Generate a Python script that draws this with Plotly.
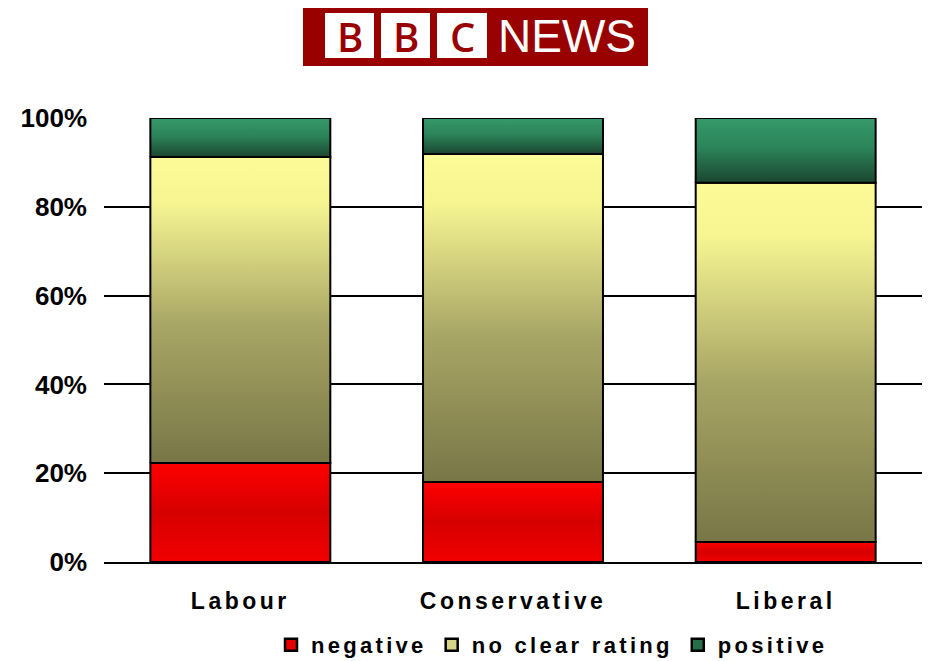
import plotly.graph_objects as go

# ---- data ----
parties = ["Labour", "Conservative", "Liberal"]
negative = [22.3, 18.0, 4.5]
no_clear_rating = [68.9, 73.9, 80.9]
positive = [8.8, 8.1, 14.6]
series_names = ["negative", "no clear rating", "positive"]
y_tick_vals = [0, 20, 40, 60, 80, 100]
y_tick_text = ["0%", "20%", "40%", "60%", "80%", "100%"]

# ---- styles ----
gradients = {
    "negative": [[0, "#f20000"], [0.5, "#d60000"], [1, "#ff0000"]],
    "no clear rating": [[0, "#787646"], [0.45, "#a8a665"], [0.85, "#f6f592"], [1, "#fcfb97"]],
    "positive": [[0, "#1b4630"], [0.55, "#2c855a"], [1, "#36996a"]],
}
legend_colors = {"negative": "#e60000", "no clear rating": "#d6d486", "positive": "#25704b"}
BAR_W = 0.66
FONT = "Liberation Sans, Arial, sans-serif"

# page body has an 8px margin: figure origin sits at (8, 8) on screen
OFF = 8
H = 661
# plot area in screen pixels
L, R, T, B = 104, 922, 118, 562
W = R - OFF  # figure ends exactly at the plot's right edge
def px(x):
    return (x - L) / (R - L)
def py(y):
    return (B - y) / (B - T)

def spaced(s, sp=3.5):
    return f"<span style='letter-spacing:{sp}px'>{s}</span>"

fig = go.Figure()
data = [negative, no_clear_rating, positive]
for i, party in enumerate(parties):
    base = 0.0
    for name, vals in zip(series_names, data):
        v = vals[i]
        x0, x1 = i - BAR_W / 2, i + BAR_W / 2
        y0, y1 = base, base + v
        fig.add_trace(go.Scatter(
            x=[x0, x1, x1, x0, x0], y=[y0, y0, y1, y1, y0],
            mode="lines", fill="toself",
            fillgradient=dict(type="vertical", colorscale=gradients[name]),
            line=dict(color="black", width=2),
            showlegend=False, hoverinfo="skip",
        ))
        base = y1

for name in series_names:
    fig.add_trace(go.Bar(
        x=[None], y=[None], name=spaced(name, 3.3),
        marker=dict(color=legend_colors[name], line=dict(color="black", width=2.5)),
    ))

# BBC NEWS logo
shapes = [dict(type="rect", xref="paper", yref="paper",
               x0=px(303), x1=px(648), y0=py(66), y1=py(6),
               fillcolor="#990000", line=dict(width=0), layer="above")]
for bx0, bx1 in [(325, 374), (381, 430), (437, 487)]:
    shapes.append(dict(type="rect", xref="paper", yref="paper",
                       x0=px(bx0), x1=px(bx1), y0=py(58), y1=py(13),
                       fillcolor="white", line=dict(width=0), layer="above"))
annotations = []
for letter, cx in [("B", 349.5), ("B", 405.5), ("C", 462)]:
    annotations.append(dict(text=letter, xref="paper", yref="paper", x=px(cx), y=py(36),
                            xanchor="center", yanchor="middle", showarrow=False,
                            font=dict(family="Open Sans, DejaVu Sans", size=40,
                                      color="#990000", weight=600)))
annotations.append(dict(text="NEWS", xref="paper", yref="paper", x=px(566.5), y=py(36),
                        xanchor="center", yanchor="middle", showarrow=False,
                        font=dict(family=FONT, size=46, color="white")))

fig.update_layout(
    width=W, height=H,
    margin=dict(l=L - OFF, r=0, t=T - OFF, b=H - (B - OFF)),
    plot_bgcolor="white", paper_bgcolor="white",
    shapes=shapes, annotations=annotations,
    xaxis=dict(range=[-0.5, 2.5], tickvals=[0, 1, 2],
               ticktext=[spaced(p) for p in parties],
               showgrid=False, zeroline=False, showline=True, linecolor="black", linewidth=2,
               ticks="", ticklabelstandoff=17, automargin=False,
               tickfont=dict(family=FONT, size=23, color="black", weight="bold"),
               fixedrange=True),
    yaxis=dict(range=[0, 100], tickvals=y_tick_vals, ticktext=y_tick_text,
               showgrid=True, gridcolor="black", gridwidth=2, zeroline=False,
               showline=False, ticks="", ticklabelstandoff=16, automargin=False,
               tickfont=dict(family=FONT, size=26, color="black", weight="bold"),
               fixedrange=True),
    legend=dict(orientation="h", x=px(552), y=py(645), xanchor="center", yanchor="middle",
                font=dict(family=FONT, size=22, color="black", weight="bold"),
                itemwidth=30, tracegroupgap=0, bgcolor="rgba(0,0,0,0)"),
    showlegend=True,
)

fig.write_html("out.html")
